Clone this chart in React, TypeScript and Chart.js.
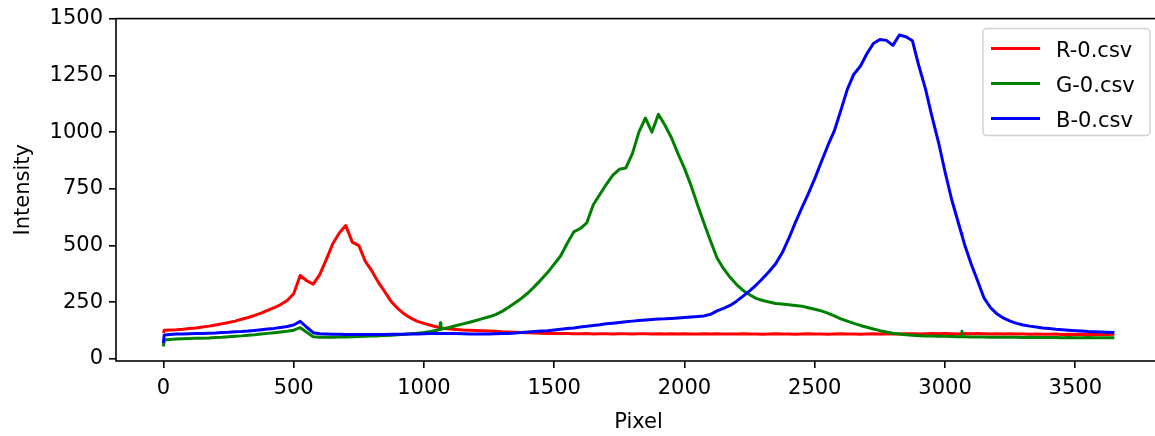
import { useEffect, useRef } from "react";
import { Chart, registerables } from "chart.js";

Chart.register(...registerables);

// Sensor pixel positions (shared by all three channels)
const pixels = [
  0, 3,
  25, 50, 75,
  100, 125, 150, 175, 200, 225, 250, 275, 300, 325, 350, 375, 400, 425, 450, 475,
  500, 525, 550, 575, 600, 625, 650, 675, 700, 725, 750, 775, 800, 825, 850, 875,
  900, 925, 950, 975, 1000, 1025, 1050, 1061, 1063, 1065, 1075, 1100, 1125, 1150, 1175, 1200, 1225, 1250, 1275,
  1300, 1325, 1350, 1375, 1400, 1425, 1450, 1475, 1500, 1525, 1550, 1575, 1600, 1625, 1650, 1675,
  1700, 1725, 1750, 1775, 1800, 1825, 1850, 1875, 1900, 1925, 1950, 1975, 2000, 2025, 2050, 2075,
  2100, 2125, 2150, 2175, 2200, 2225, 2250, 2275, 2300, 2325, 2350, 2375, 2400, 2425, 2450, 2475,
  2500, 2525, 2550, 2575, 2600, 2625, 2650, 2675, 2700, 2725, 2750, 2775, 2800, 2825, 2850, 2875,
  2900, 2925, 2950, 2975, 3000, 3025, 3050, 3063, 3065, 3067, 3075, 3100, 3125, 3150, 3175, 3200, 3225, 3250, 3275,
  3300, 3325, 3350, 3375, 3400, 3425, 3450, 3475, 3500, 3525, 3550, 3575, 3600, 3625, 3650,
];

// R-0.csv
const redIntensity = [
  115, 127,
  128, 129, 131,
  134, 137, 141, 145, 150, 155, 161, 167, 175, 183, 192, 202, 214, 226, 240, 258,
  288, 368, 345, 330, 372, 438, 508, 555, 588, 515, 500, 430, 388, 338, 296, 252,
  222, 198, 180, 166, 157, 149, 141, 139, 138, 138, 136, 132, 130, 128, 127, 126, 125, 124, 122,
  120, 119, 118, 117, 116, 115, 114, 113, 113, 112, 112, 111, 111, 112, 110, 111,
  111, 110, 111, 111, 110, 111, 111, 110, 111, 110, 111, 110, 111, 110, 110, 111,
  110, 111, 110, 110, 110, 111, 110, 110, 109, 110, 111, 110, 110, 109, 110, 111,
  110, 110, 109, 110, 111, 110, 110, 109, 110, 111, 110, 110, 111, 110, 111, 111,
  110, 111, 112, 111, 112, 111, 110, 111, 111, 110, 112, 111, 112, 111, 110, 111, 110, 111, 110,
  110, 109, 110, 109, 109, 110, 108, 109, 108, 109, 108, 108, 109, 108, 109,
];

// G-0.csv
const greenIntensity = [
  55, 84,
  86, 88, 89,
  90, 91, 92, 93, 95, 96, 98, 100, 102, 105, 107, 110, 113, 116, 119, 122,
  127, 138, 118, 98, 96, 96, 96, 97, 97, 98, 99, 100, 101, 102, 104, 105,
  107, 109, 111, 114, 117, 121, 127, 130, 160, 131, 134, 140, 148, 155, 162, 170, 178, 186, 196,
  210, 228, 248, 268, 292, 320, 350, 382, 418, 455, 510, 560, 575, 600, 680, 725,
  770, 810, 836, 842, 905, 1000, 1062, 1000, 1078, 1030, 975, 905, 840, 765, 680, 598,
  520, 445, 398, 360, 328, 302, 283, 267, 258, 251, 245, 242, 239, 236, 233, 226,
  219, 212, 202, 190, 177, 167, 157, 148, 140, 132, 125, 119, 114, 110, 107, 105,
  103, 102, 101, 100, 100, 99, 98, 98, 122, 98, 98, 97, 97, 97, 96, 96, 96, 96, 96,
  95, 96, 95, 95, 95, 95, 94, 95, 94, 94, 95, 94, 94, 94, 94,
];

// B-0.csv
const blueIntensity = [
  70, 106,
  108, 110, 110,
  111, 112, 113, 114, 115, 117, 118, 120, 121, 123, 126, 129, 132, 135, 139, 143,
  150, 166, 140, 116, 111, 110, 109, 109, 108, 108, 108, 108, 108, 108, 108, 109,
  109, 109, 110, 110, 111, 112, 112, 112, 112, 113, 113, 113, 112, 111, 110, 110, 110, 110, 111,
  112, 113, 115, 117, 119, 121, 123, 125, 128, 131, 134, 137, 141, 144, 148, 151,
  155, 158, 161, 164, 167, 170, 172, 174, 176, 177, 179, 181, 183, 185, 187, 190,
  197, 212, 223, 236, 255, 277, 300, 326, 355, 386, 420, 468, 530, 600, 665, 728,
  795, 868, 940, 1005, 1095, 1188, 1255, 1290, 1345, 1390, 1408, 1404, 1382, 1428, 1420, 1402,
  1290, 1190, 1068, 955, 825, 705, 605, 553, 545, 537, 505, 420, 345, 268, 226, 198, 180, 167, 157,
  150, 145, 141, 137, 134, 131, 129, 127, 125, 123, 121, 120, 119, 118, 117,
];

const xTicks = [0, 500, 1000, 1500, 2000, 2500, 3000, 3500];
const yTicks = [0, 250, 500, 750, 1000, 1250, 1500];

const seriesLabels = ["R-0.csv", "G-0.csv", "B-0.csv"];
const seriesColors = ["#ff0000", "#008000", "#0000ff"];
const seriesValues = [redIntensity, greenIntensity, blueIntensity];

const FONT = '"DejaVu Sans", sans-serif';
const FONT_SIZE = 21;
const CANVAS_W = 1175;
const CANVAS_H = 436;

// Black frame around the plotting area
const framePlugin = {
  id: "axesFrame",
  afterDatasetsDraw(chart: any) {
    const { ctx, chartArea: a } = chart;
    ctx.save();
    ctx.strokeStyle = "#000";
    ctx.lineWidth = 1.6;
    ctx.strokeRect(a.left, a.top, a.right - a.left, a.bottom - a.top);
    ctx.restore();
  },
};

// Boxed legend in the upper right corner of the plotting area
const boxLegendPlugin = {
  id: "boxLegend",
  afterDraw(chart: any) {
    const { ctx, chartArea: a } = chart;
    const boxW = 167;
    const boxH = 107;
    const right = a.right - 11;
    const left = right - boxW;
    const top = a.top + 10;
    ctx.save();
    ctx.beginPath();
    ctx.roundRect(left, top, boxW, boxH, 4);
    ctx.fillStyle = "rgba(255,255,255,0.8)";
    ctx.fill();
    ctx.strokeStyle = "#d2d2d2";
    ctx.lineWidth = 1.5;
    ctx.stroke();
    ctx.font = `${FONT_SIZE}px ${FONT}`;
    ctx.textBaseline = "alphabetic";
    ctx.textAlign = "left";
    chart.data.datasets.forEach((ds: any, i: number) => {
      const y = top + 20 + i * 35;
      ctx.beginPath();
      ctx.strokeStyle = ds.borderColor;
      ctx.lineWidth = 3;
      ctx.moveTo(left + 8, y);
      ctx.lineTo(left + 57, y);
      ctx.stroke();
      ctx.fillStyle = "#000";
      ctx.fillText(ds.label, left + 73, y + 8);
    });
    ctx.restore();
  },
};

export default function App() {
  const canvasRef = useRef<HTMLCanvasElement | null>(null);

  useEffect(() => {
    if (!canvasRef.current) return;
    const datasets = seriesLabels.map((label, s) => ({
      label,
      data: pixels.map((x, i) => ({ x, y: seriesValues[s][i] })),
      borderColor: seriesColors[s],
      backgroundColor: seriesColors[s],
      borderWidth: 3,
      borderJoinStyle: "round" as const,
      pointRadius: 0,
      fill: false,
      tension: 0,
      order: 3 - s,
    }));

    const tickFont = { family: FONT, size: FONT_SIZE };

    const chart = new Chart(canvasRef.current, {
      type: "line",
      data: { datasets },
      options: {
        animation: false,
        responsive: false,
        devicePixelRatio: 1,
        layout: { padding: { top: 15, right: CANVAS_W - 1161, left: 0, bottom: 0 } },
        plugins: { legend: { display: false }, tooltip: { enabled: false } },
        scales: {
          x: {
            type: "linear",
            min: -182,
            max: 3829,
            afterBuildTicks: (s: any) => {
              s.ticks = xTicks.map((v) => ({ value: v }));
            },
            afterFit: (s: any) => {
              s.height = 75;
            },
            grid: { drawOnChartArea: false, drawTicks: true, tickLength: 7, color: "#000", lineWidth: 1.6 },
            border: { display: false },
            ticks: {
              color: "#000",
              font: tickFont,
              padding: 8,
              maxRotation: 0,
              autoSkip: false,
              callback: (v: any) => String(v),
            },
            title: {
              display: true,
              text: "Pixel",
              color: "#000",
              font: tickFont,
              padding: { top: 0, bottom: 1 },
            },
          },
          y: {
            type: "linear",
            min: -8.7,
            max: 1500,
            afterBuildTicks: (s: any) => {
              s.ticks = yTicks.map((v) => ({ value: v }));
            },
            afterFit: (s: any) => {
              s.width = 116;
            },
            grid: { drawOnChartArea: false, drawTicks: true, tickLength: 7, color: "#000", lineWidth: 1.6 },
            border: { display: false },
            ticks: {
              color: "#000",
              font: tickFont,
              padding: 6,
              autoSkip: false,
              callback: (v: any) => String(v),
            },
            title: {
              display: true,
              text: "Intensity",
              color: "#000",
              font: tickFont,
              padding: { top: 11, bottom: 0 },
            },
          },
        },
      },
      plugins: [framePlugin, boxLegendPlugin],
    });

    return () => chart.destroy();
  }, []);

  return (
    <div
      style={{
        position: "fixed",
        left: 0,
        top: 0,
        width: 1155,
        height: 436,
        overflow: "hidden",
        background: "#fff",
      }}
    >
      <canvas
        ref={canvasRef}
        width={CANVAS_W}
        height={CANVAS_H}
        style={{ width: CANVAS_W, height: CANVAS_H, display: "block" }}
      />
    </div>
  );
}
